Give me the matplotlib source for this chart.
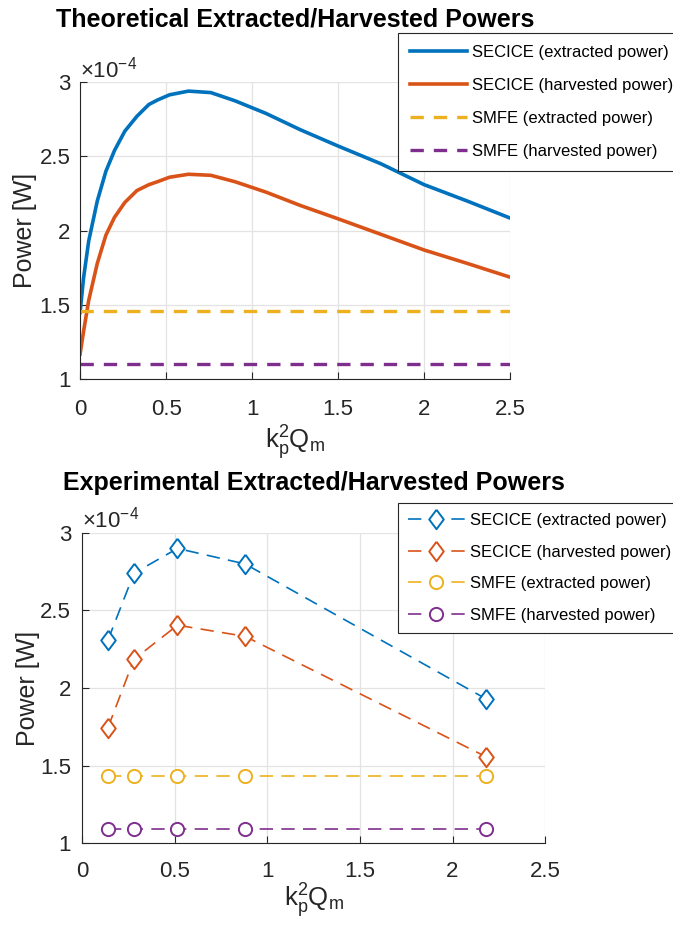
import matplotlib.pyplot as plt
from matplotlib.ticker import FuncFormatter

plt.rcParams['font.family'] = ['Liberation Sans', 'DejaVu Sans']
plt.rcParams['mathtext.fontset'] = 'custom'
plt.rcParams['mathtext.rm'] = 'Liberation Sans'
plt.rcParams['mathtext.it'] = 'Liberation Sans'

# theoretical curves (power in W)
k2q_th = [0.0, 0.02, 0.05, 0.1, 0.15, 0.2, 0.26, 0.33, 0.4, 0.45, 0.52, 0.63,
          0.76, 0.9, 1.08, 1.28, 1.5, 1.75, 2.0, 2.25, 2.5]
secice_ext_th = [1.45, 1.68, 1.93, 2.20, 2.40, 2.54, 2.67, 2.77, 2.85, 2.88, 2.915, 2.94,
                 2.93, 2.875, 2.79, 2.68, 2.57, 2.45, 2.31, 2.20, 2.085]
secice_harv_th = [1.17, 1.32, 1.53, 1.78, 1.97, 2.09, 2.19, 2.27, 2.31, 2.33, 2.36, 2.38,
                  2.373, 2.33, 2.26, 2.17, 2.08, 1.975, 1.87, 1.78, 1.687]
smfe_ext_th = 1.46
smfe_harv_th = 1.10

# experimental points (power in W)
k2q_exp = [0.14, 0.28, 0.515, 0.88, 2.18]
secice_ext_exp = [2.31, 2.74, 2.90, 2.80, 1.93]
secice_harv_exp = [1.745, 2.185, 2.405, 2.333, 1.557]
smfe_ext_exp = [1.433, 1.433, 1.433, 1.433, 1.433]
smfe_harv_exp = [1.092, 1.092, 1.092, 1.092, 1.092]

scale = 1e-4
labels = ['SECICE (extracted power)', 'SECICE (harvested power)',
          'SMFE (extracted power)', 'SMFE (harvested power)']
colors = ['#0072BD', '#D95319', '#EDB120', '#7E2F8E']
dark = '#262626'
diamond = [(0, 1), (0.75, 0), (0, -1), (-0.75, 0), (0, 1)]

fig = plt.figure(figsize=(6.73, 9.34), dpi=100)
ax1 = fig.add_axes([0.119, 0.594, 0.639, 0.318])
ax2 = fig.add_axes([0.122, 0.0974, 0.688, 0.332])


def W(vals):
    return [v * scale for v in vals]


ax1.plot(k2q_th, W(secice_ext_th), color=colors[0], lw=2.6, label=labels[0])
ax1.plot(k2q_th, W(secice_harv_th), color=colors[1], lw=2.6, label=labels[1])
ax1.plot([k2q_th[0], k2q_th[-1]], W([smfe_ext_th] * 2), color=colors[2], lw=2.4,
         dashes=(4, 3), label=labels[2])
ax1.plot([k2q_th[0], k2q_th[-1]], W([smfe_harv_th] * 2), color=colors[3], lw=2.4,
         dashes=(4, 3), label=labels[3])

exp_series = [secice_ext_exp, secice_harv_exp, smfe_ext_exp, smfe_harv_exp]
markers = [diamond, diamond, 'o', 'o']
sizes = [14, 14, 9.5, 9.5]
for ys, c, m, ms, lab in zip(exp_series, colors, markers, sizes, labels):
    ax2.plot(k2q_exp, W(ys), color=c, lw=1.2, dashes=(8, 5), marker=m,
             markersize=ms, markerfacecolor='white', markeredgecolor=c,
             markeredgewidth=1.4, label=lab)

fmt = FuncFormatter(lambda v, p: '%g' % round(v / scale, 6))
setup = [(ax1, 'Theoretical Extracted/Harvested Powers', 40, 14, 7, -0.1, -0.148),
         (ax2, 'Experimental Extracted/Harvested Powers', 31, 13, 8, -0.091, -0.125)]
for ax, title, tpad, xpad, ypad, ylx, xly in setup:
    ax.set_xlim(0, 2.5)
    ax.set_ylim(1 * scale, 3 * scale)
    ax.set_xticks([0, 0.5, 1, 1.5, 2, 2.5])
    ax.set_xticklabels(['0', '0.5', '1', '1.5', '2', '2.5'])
    ax.set_yticks(W([1, 1.5, 2, 2.5, 3]))
    ax.yaxis.set_major_formatter(fmt)
    ax.spines['top'].set_visible(False)
    ax.spines['right'].set_visible(False)
    for s in ['left', 'bottom']:
        ax.spines[s].set_color(dark)
        ax.spines[s].set_linewidth(0.8)
    ax.tick_params(direction='in', length=5, width=0.8, colors=dark, labelsize=16)
    ax.tick_params(axis='x', pad=xpad)
    ax.tick_params(axis='y', pad=ypad)
    ax.grid(True, color='#e3e3e3', lw=0.9)
    ax.set_axisbelow(True)
    ax.set_title(title, fontsize=18, fontweight='bold', pad=tpad)
    ax.set_xlabel(r'$\mathregular{k_p^2Q_m}$', fontsize=18.5, color=dark)
    ax.set_ylabel('Power [W]', fontsize=18, color=dark)
    ax.yaxis.set_label_coords(ylx, 0.5)
    ax.xaxis.set_label_coords(0.5, xly)
    ax.text(0.0, 1.0, r'$\times\mathregular{10^{-4}}$', transform=ax.transAxes,
            fontsize=16, color=dark, ha='left', va='bottom')

leg_kw = dict(loc='upper left', fontsize=12, frameon=True, fancybox=False,
              edgecolor=dark, framealpha=1, handletextpad=0.3, borderaxespad=0,
              bbox_transform=fig.transFigure, handlelength=3.4)
l1 = ax1.legend(bbox_to_anchor=(398 / 673, 1 - 33 / 934), borderpad=0.72,
                labelspacing=1.08, **leg_kw)
l2 = ax2.legend(bbox_to_anchor=(398 / 673, 1 - 503 / 934), borderpad=0.6,
                labelspacing=1.0, **leg_kw)
for lg in (l1, l2):
    lg.get_frame().set_linewidth(0.8)

fig.savefig('out.png', dpi=100)
